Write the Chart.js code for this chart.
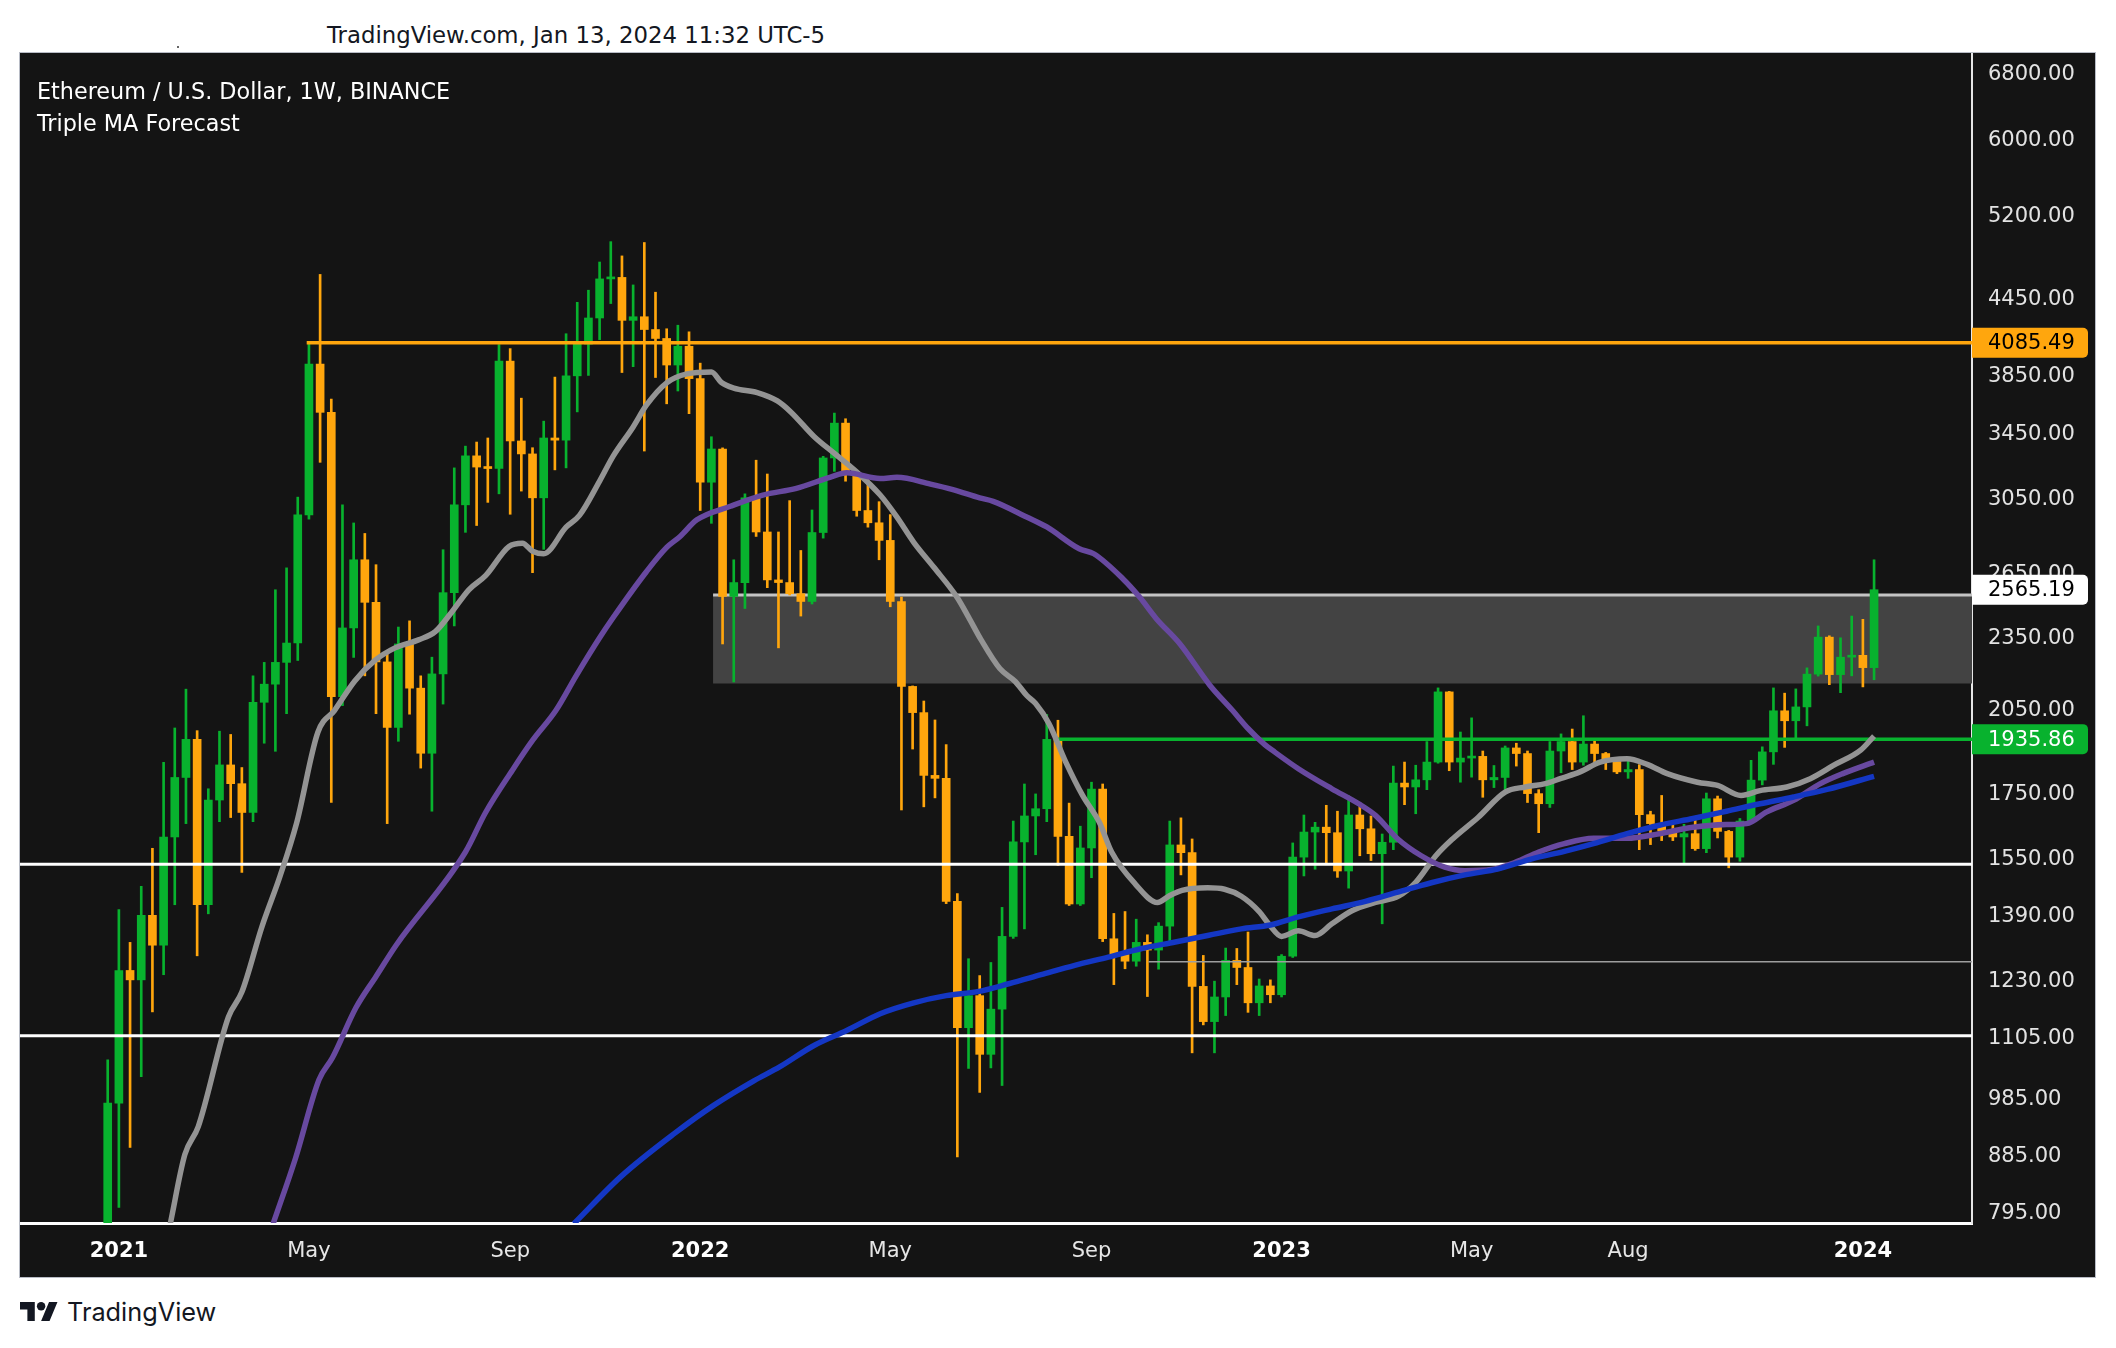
<!DOCTYPE html>
<html>
<head>
<meta charset="utf-8">
<script src="https://cdn.jsdelivr.net/npm/chart.js@4.4.1/dist/chart.umd.min.js"></script>
<style>
  html, body { margin: 0; padding: 0; background: #fff; width: 2116px; height: 1348px; overflow: hidden; }
  body { font-family: "DejaVu Sans", sans-serif; position: relative; }
  #frame { position: absolute; left: 19px; top: 52px; width: 2075px; height: 1224px; border: 1px solid #b8bcc6; background: #141414; }
  #chart { display: block; }
  .txt { position: absolute; white-space: nowrap; }
  #stamp { left: 327px; top: 24px; font-size: 22.8px; line-height: 22.8px; color: #131722; }
  #title { left: 37px; top: 80px; font-size: 22.3px; line-height: 22.3px; color: #fff; }
  #study { left: 37px; top: 112px; font-size: 22.3px; line-height: 22.3px; color: #fff; }
  #dot { position: absolute; left: 177px; top: 46px; width: 2px; height: 2px; background: #666; }
  #logo { position: absolute; left: 20px; top: 1302px; }
  #logoText { left: 67px; top: 1299px; font-family: Inter, sans-serif; font-size: 25.3px; line-height: 25.3px; color: #131722; }
</style>
</head>
<body>
<div id="dot"></div>
<div class="txt" id="stamp">TradingView.com, Jan 13, 2024 11:32 UTC-5</div>
<div id="frame"><canvas id="chart" width="2075" height="1224"></canvas></div>
<div class="txt" id="title">Ethereum / U.S. Dollar, 1W, BINANCE</div>
<div class="txt" id="study">Triple MA Forecast</div>
<svg id="logo" width="38" height="19" viewBox="0 4 36 18"><path fill="#131722" d="M14 22H7V11H0V4h14v18zM28 22h-8l7.5-18h8L28 22z"/><circle fill="#131722" cx="20" cy="8" r="4"/></svg>
<div class="txt" id="logoText">TradingView</div>

<script>
// weekly candles, index 0 = week of Dec 28 2020
const opens = [737, 975, 1252, 1230, 1389, 1313, 1610, 1801, 1935, 1417,
  1726, 1844, 1780, 1686, 2075, 2147, 2237, 2320, 2954, 3924,
  3583, 2097, 2387, 2714, 2505, 2239, 1979, 2316, 2131, 1885,
  2189, 2551, 3010, 3301, 3232, 3223, 3946, 3395, 3313, 3050,
  3414, 3400, 3838, 4074, 4280, 4607, 4620, 4261, 4290, 4188,
  4118, 3917, 4058, 3818, 3141, 3344, 2533, 2600, 3050, 2860,
  2613, 2600, 2546, 2509, 2857, 3288, 3511, 3190, 2978, 2910,
  2815, 2509, 2138, 2035, 1808, 1798, 1426, 1124, 1194, 1069,
  1164, 1335, 1595, 1675, 1698, 1935, 1612, 1419, 1577, 1762,
  1329, 1290, 1274, 1320, 1301, 1361, 1586, 1563, 1215, 1137,
  1191, 1276, 1259, 1178, 1216, 1196, 1286, 1550, 1625, 1640,
  1623, 1510, 1678, 1635, 1560, 1594, 1782, 1769, 1793, 1854,
  2116, 1854, 1868, 1874, 1793, 1801, 1904, 1884, 1747, 1714,
  1893, 1927, 1854, 1918, 1884, 1856, 1820, 1828, 1679, 1651,
  1628, 1610, 1620, 1575, 1730, 1627, 1550, 1659, 1792, 1890,
  2042, 2004, 2057, 2188, 2346, 2186, 2259, 2267, 2215];
const highs = [1058, 1404, 1320, 1467, 1576, 1853, 1977, 2127, 1967, 1763,
  1965, 1953, 1835, 2181, 2237, 2565, 2673, 3054, 4085, 4646,
  3673, 3010, 2909, 2852, 2689, 2272, 2391, 2419, 2181, 2259,
  2766, 3227, 3362, 3388, 3414, 4071, 4040, 3680, 3352, 3524,
  3829, 4155, 4408, 4510, 4756, 4942, 4811, 4555, 4934, 4493,
  4194, 4222, 4170, 3931, 3422, 3351, 2714, 3073, 3274, 3190,
  2860, 3034, 2762, 2981, 3298, 3578, 3540, 3200, 3170, 3028,
  2955, 2530, 2140, 2080, 2007, 1916, 1447, 1280, 1240, 1271,
  1410, 1659, 1779, 1746, 2028, 2006, 1716, 1643, 1785, 1779,
  1394, 1399, 1379, 1339, 1370, 1659, 1669, 1604, 1288, 1227,
  1306, 1305, 1346, 1232, 1230, 1290, 1592, 1678, 1655, 1709,
  1690, 1740, 1717, 1675, 1619, 1840, 1854, 1843, 1927, 2132,
  2118, 1962, 2015, 1893, 1842, 1911, 1921, 1893, 1760, 1927,
  1955, 1973, 2023, 1931, 1888, 1870, 1871, 1845, 1690, 1741,
  1660, 1649, 1667, 1749, 1739, 1630, 1667, 1860, 1908, 2132,
  2111, 2128, 2214, 2396, 2352, 2343, 2441, 2426, 2714];
const lows = [714, 801, 897, 1025, 1158, 1242, 1417, 1651, 1287, 1393,
  1657, 1670, 1506, 1657, 1921, 1892, 2031, 2245, 2930, 3261,
  1718, 2062, 2258, 2181, 2031, 1651, 1928, 2029, 1833, 1690,
  2068, 2396, 2858, 2895, 3024, 3073, 2957, 3089, 2649, 2768,
  3215, 3227, 3586, 3841, 4109, 4398, 3862, 3905, 3331, 3826,
  3641, 3730, 3574, 2978, 2907, 2316, 2156, 2476, 2836, 2575,
  2299, 2540, 2441, 2497, 2827, 3206, 3147, 2946, 2886, 2714,
  2484, 1694, 1900, 1704, 1733, 1420, 881, 1041, 995, 1042,
  1008, 1330, 1354, 1557, 1657, 1526, 1415, 1415, 1491, 1322,
  1219, 1256, 1262, 1192, 1255, 1322, 1499, 1072, 1130, 1072,
  1150, 1219, 1157, 1150, 1178, 1191, 1283, 1496, 1515, 1533,
  1492, 1462, 1554, 1540, 1367, 1572, 1711, 1682, 1760, 1850,
  1824, 1785, 1802, 1735, 1767, 1760, 1840, 1718, 1623, 1702,
  1817, 1828, 1843, 1850, 1828, 1814, 1798, 1572, 1587, 1599,
  1599, 1528, 1570, 1563, 1607, 1519, 1538, 1655, 1776, 1846,
  1906, 1938, 1985, 2180, 2145, 2113, 2181, 2136, 2165];
const closes = [975, 1252, 1230, 1389, 1313, 1610, 1801, 1935, 1417, 1726,
  1844, 1780, 1686, 2075, 2147, 2237, 2320, 2954, 3924, 3583,
  2097, 2387, 2714, 2505, 2239, 1979, 2316, 2131, 1885, 2189,
  2551, 3010, 3301, 3232, 3223, 3946, 3395, 3313, 3050, 3414,
  3400, 3838, 4074, 4280, 4607, 4620, 4261, 4290, 4188, 4118,
  3917, 4058, 3818, 3141, 3344, 2533, 2600, 3050, 2860, 2613,
  2600, 2546, 2509, 2857, 3288, 3511, 3190, 2978, 2910, 2815,
  2509, 2138, 2035, 1808, 1798, 1426, 1124, 1194, 1069, 1164,
  1335, 1595, 1675, 1698, 1935, 1612, 1419, 1577, 1762, 1329,
  1290, 1274, 1320, 1301, 1361, 1586, 1563, 1215, 1137, 1191,
  1276, 1259, 1178, 1216, 1196, 1286, 1550, 1625, 1640, 1623,
  1510, 1678, 1635, 1560, 1594, 1782, 1769, 1793, 1854, 2116,
  1854, 1868, 1874, 1793, 1801, 1904, 1884, 1747, 1714, 1893,
  1927, 1854, 1918, 1884, 1856, 1820, 1828, 1679, 1651, 1628,
  1610, 1620, 1575, 1730, 1627, 1550, 1659, 1792, 1890, 2042,
  2004, 2057, 2188, 2346, 2186, 2259, 2267, 2215, 2565.19];

// moving averages: [week index, price]
const maFast = [[5.6, 777], [6.9, 885], [8.1, 933], [10.8, 1147], [12.0, 1202], [13.8, 1360],
  [15.4, 1494], [16.9, 1653], [18.8, 1961], [20.3, 2044], [22.1, 2160], [23.9, 2245],
  [25.7, 2299], [27.8, 2334], [29.3, 2370], [30.8, 2461], [32.3, 2565], [33.8, 2634],
  [35.9, 2783], [37.1, 2800], [38.0, 2758], [39.0, 2745], [41.0, 2886], [42.2, 2951],
  [44.0, 3148], [45.2, 3298], [47.0, 3486], [48.2, 3633], [50.0, 3788], [51.8, 3852],
  [54.0, 3866], [54.9, 3790], [56.0, 3750], [58.1, 3719], [59.9, 3661], [61.1, 3586],
  [63.2, 3422], [65.0, 3316], [66.8, 3214], [69.1, 3066], [70.6, 2941], [72.1, 2805],
  [73.9, 2676], [76.0, 2527], [77.0, 2436], [78.1, 2336], [79.8, 2211], [81.2, 2157],
  [82.2, 2102], [83.0, 2070], [84.2, 1993], [85.7, 1854], [87.2, 1741], [88.7, 1655],
  [89.8, 1565], [91.9, 1474], [93.9, 1423], [94.9, 1440], [96.1, 1456], [98.4, 1463],
  [99.9, 1459], [101.4, 1440], [103.0, 1399], [103.9, 1365], [105.0, 1335], [106.5, 1349],
  [108.0, 1337], [109.5, 1367], [111.3, 1401], [113.4, 1423], [115.5, 1441], [117.0, 1478],
  [118.8, 1554], [120.3, 1604], [122.6, 1671], [125.0, 1752], [126.8, 1769], [128.6, 1780],
  [130.0, 1798], [131.7, 1820], [133.5, 1854], [135.9, 1866], [137.7, 1846], [139.5, 1814],
  [142.2, 1785], [144.0, 1774], [146.1, 1741], [147.8, 1757], [150.2, 1769], [152.3, 1797],
  [154.4, 1843], [156.8, 1896], [158.0, 1947]];
const maMid = [[14.8, 777], [16.8, 879], [18.9, 1019], [20.1, 1062], [22.2, 1167], [24.0, 1238],
  [25.8, 1313], [32.0, 1565], [33.8, 1686], [36.2, 1826], [38.0, 1931], [40.1, 2044],
  [41.9, 2181], [44.0, 2343], [45.2, 2433], [48.2, 2655], [50.0, 2778], [51.2, 2836],
  [52.7, 2926], [55.7, 3002], [58.6, 3066], [61.6, 3105], [64.6, 3170], [66.1, 3197],
  [69.1, 3163], [70.6, 3170], [73.6, 3130], [75.6, 3098], [78.0, 3050], [79.2, 3030],
  [82.2, 2942], [84.0, 2887], [86.9, 2771], [88.2, 2745], [90.8, 2619], [92.3, 2530],
  [93.8, 2429], [95.9, 2317], [98.6, 2142], [100.6, 2044], [102.0, 1975], [103.5, 1916],
  [104.4, 1889], [106.5, 1831], [109.5, 1763], [111.9, 1714], [113.4, 1677], [115.4, 1604],
  [117.5, 1554], [119.6, 1521], [121.4, 1511], [123.8, 1514], [125.9, 1535], [128.0, 1565],
  [130.3, 1590], [132.9, 1606], [135.9, 1606], [138.8, 1620], [141.8, 1640], [144.8, 1648],
  [146.6, 1651], [148.4, 1688], [150.8, 1725], [153.2, 1780], [155.2, 1814], [158.0, 1854]];
const maSlow = [[41.7, 777], [45.9, 849], [50.7, 921], [54.2, 971], [57.8, 1017], [60.1, 1044],
  [63.1, 1086], [66.1, 1118], [69.1, 1154], [72.1, 1178], [75.0, 1194], [77.8, 1203],
  [80.6, 1221], [83.5, 1242], [86.5, 1264], [89.5, 1284], [92.5, 1305], [95.5, 1321],
  [98.5, 1338], [101.4, 1354], [104.0, 1364], [106.5, 1385], [109.5, 1406], [112.5, 1426],
  [115.4, 1451], [118.4, 1477], [121.4, 1499], [124.4, 1516], [127.4, 1545], [130.3, 1567],
  [132.9, 1590], [135.9, 1620], [138.8, 1646], [141.8, 1667], [144.8, 1690], [147.8, 1714],
  [150.8, 1736], [153.8, 1761], [158.0, 1805]];

// drawn levels
const resistance = 4085.49, resistanceFrom = 17.8;
const lastClose = 2565.19;
const zoneHigh = 2540, zoneLow = 2150, zoneFrom = 54.15;
const support = 1935.86, supportFrom = 85.0;
const whiteLevels = [1529, 1107];
const thinLevel = 1273, thinFrom = 93.1;

const yTicks = [795, 885, 985, 1105, 1230, 1390, 1550, 1750, 2050, 2350, 2650, 3050, 3450, 3850, 4450, 5200, 6000, 6800];
const xTickIdx = [1, 18, 36, 53, 70, 88, 105, 122, 136, 157];
const xTickLabels = ['2021', 'May', 'Sep', '2022', 'May', 'Sep', '2023', 'May', 'Aug', '2024'];

const X_MIN = -7.845, X_MAX = 166.76, Y_MIN = 778, Y_MAX = 7051;
const GREEN = '#08b22e', ORANGE = '#ffa60d';

const candleColor = (ctx) => {
  const i = ctx.dataIndex;
  if (i === undefined) return GREEN;
  return closes[i] >= opens[i] ? GREEN : ORANGE;
};

const hline = (y, from, color, width, order) => ({
  type: 'line',
  data: [{ x: from, y: y }, { x: X_MAX, y: y }],
  borderColor: color, borderWidth: width, pointRadius: 0, fill: false, order: order
});

const maLine = (pts, color) => ({
  type: 'line',
  data: pts.map(p => ({ x: p[0], y: p[1] })),
  borderColor: color, borderWidth: 5.5, pointRadius: 0, fill: false,
  cubicInterpolationMode: 'monotone', order: 1
});

const isYear = (v) => /^\d/.test(xTickLabels[xTickIdx.indexOf(v)] || '');

const background = {
  id: 'background',
  beforeDraw(chart) {
    const c = chart.ctx;
    c.save();
    c.fillStyle = '#141414';
    c.fillRect(0, 0, chart.width, chart.height);
    c.restore();
  }
};

const tags = [
  { value: resistance, bg: ORANGE, fg: '#000' },
  { value: lastClose, bg: '#ffffff', fg: '#000' },
  { value: support, bg: GREEN, fg: '#fff' }
];

const priceTags = {
  id: 'priceTags',
  afterDraw(chart) {
    const { ctx, chartArea } = chart;
    const y = chart.scales.y;
    tags.forEach(t => {
      const py = y.getPixelForValue(t.value);
      ctx.save();
      ctx.fillStyle = t.bg;
      ctx.beginPath();
      ctx.roundRect(chartArea.right, py - 15, 116, 30, [0, 5, 5, 0]);
      ctx.fill();
      ctx.fillStyle = t.fg;
      ctx.font = '21px "DejaVu Sans"';
      ctx.textBaseline = 'middle';
      ctx.fillText(t.value.toFixed(2), chartArea.right + 16, py + 1);
      ctx.restore();
    });
  }
};

const datasets = [
  // zone: top border then filled bottom
  { type: 'line', data: [{ x: zoneFrom, y: zoneHigh }, { x: X_MAX, y: zoneHigh }],
    borderColor: '#c4c4c4', borderWidth: 3, pointRadius: 0, fill: false, order: 10 },
  { type: 'line', data: [{ x: zoneFrom, y: zoneLow }, { x: X_MAX, y: zoneLow }],
    borderWidth: 0, pointRadius: 0, fill: '-1', backgroundColor: '#434343', order: 10 },
  { type: 'bar', data: lows.map((l, i) => ({ x: i, y: [l, highs[i]] })),
    backgroundColor: candleColor, barThickness: 2, grouped: false, order: 5 },
  { type: 'bar', data: opens.map((o, i) => ({ x: i, y: [o, closes[i]] })),
    backgroundColor: candleColor, barThickness: 8, minBarLength: 2, grouped: false, order: 4 },
  hline(resistance, resistanceFrom, ORANGE, 3.5, 3),
  hline(support, supportFrom, GREEN, 3.5, 3),
  hline(whiteLevels[0], X_MIN, '#ffffff', 3, 3),
  hline(whiteLevels[1], X_MIN, '#ffffff', 3, 3),
  hline(thinLevel, thinFrom, '#9e9e9e', 1.5, 3),
  maLine(maSlow, '#1437c4'),
  maLine(maMid, '#6849a0'),
  maLine(maFast, '#949494')
];

new Chart(document.getElementById('chart'), {
  type: 'bar',
  data: { datasets: datasets },
  options: {
    responsive: false,
    maintainAspectRatio: false,
    animation: false,
    devicePixelRatio: 1,
    layout: { padding: 0 },
    plugins: { legend: { display: false }, tooltip: { enabled: false } },
    scales: {
      x: {
        type: 'linear', min: X_MIN, max: X_MAX, offset: false,
        grid: { display: false, drawTicks: false },
        border: { display: true, color: '#ffffff', width: 3 },
        afterBuildTicks: (s) => { s.ticks = xTickIdx.map(v => ({ value: v })); },
        afterFit: (s) => { s.height = 54; s.paddingLeft = 0; s.paddingRight = 0; },
        ticks: {
          autoSkip: false, maxRotation: 0, padding: 16,
          callback: (v) => xTickLabels[xTickIdx.indexOf(v)],
          color: (c) => (c.tick && isYear(c.tick.value) ? '#ffffff' : '#e6e6e6'),
          font: (c) => ({
            family: 'DejaVu Sans', size: 21,
            weight: (c.tick && isYear(c.tick.value)) ? 'bold' : 'normal'
          })
        }
      },
      y: {
        type: 'logarithmic', position: 'right', min: Y_MIN, max: Y_MAX,
        grid: { display: false, drawTicks: false },
        border: { display: true, color: '#e6e6e6', width: 2 },
        afterBuildTicks: (s) => { s.ticks = yTicks.map(v => ({ value: v })); },
        afterFit: (s) => { s.width = 123; s.paddingTop = 0; s.paddingBottom = 0; },
        ticks: {
          autoSkip: false, padding: 16, crossAlign: 'near', labelOffset: 2,
          callback: (v) => Number(v).toFixed(2),
          color: '#e3e3e3',
          font: { family: 'DejaVu Sans', size: 21 }
        }
      }
    }
  },
  plugins: [background, priceTags]
});
</script>
</body>
</html>
